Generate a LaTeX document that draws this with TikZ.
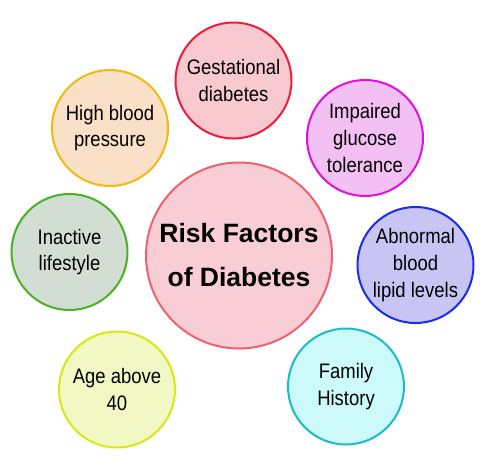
\documentclass[tikz,border=0pt]{standalone}
\usepackage{fontspec}
\setmainfont{Liberation Sans}[FakeStretch=0.88]
\newfontfamily\centerfont{Liberation Sans}
\definecolor{gestF}{HTML}{F9C9D0}\definecolor{gestD}{HTML}{EE1C3A}
\definecolor{hbpF}{HTML}{FBE0C8}\definecolor{hbpD}{HTML}{F2BA10}
\definecolor{impF}{HTML}{F2C0F2}\definecolor{impD}{HTML}{E010E0}
\definecolor{ablF}{HTML}{C8C4F4}\definecolor{ablD}{HTML}{1A2BF0}
\definecolor{famF}{HTML}{CCFAFA}\definecolor{famD}{HTML}{1ABCC8}
\definecolor{ageF}{HTML}{F2F8C4}\definecolor{ageD}{HTML}{D8E810}
\definecolor{inaF}{HTML}{D2DDD4}\definecolor{inaD}{HTML}{4AB024}
\definecolor{cenF}{HTML}{F9CDD6}\definecolor{cenD}{HTML}{F0606E}
\tikzset{
  factor/.style={circle, line width=2pt, minimum size=116pt, inner sep=0pt, align=center,
    font=\fontsize{21}{26.7}\selectfont, text=black},
  hub/.style={circle, line width=2pt, minimum size=186pt, inner sep=0pt, align=center,
    font=\centerfont\bfseries\fontsize{26.5}{44}\selectfont, text=black}
}
\begin{document}
\begin{tikzpicture}[x=1pt,y=-1pt]
\useasboundingbox (0,0) rectangle (498,475);
\node[hub, draw=cenD, fill=cenF] (hub) at (239,255.5) {Risk Factors\\of Diabetes};
\node[factor, draw=gestD, fill=gestF] (gest) at (233.5,80.5) {Gestational\\diabetes};
\node[factor, draw=impD, fill=impF] (imp) at (365,138) {Impaired\\glucose\\tolerance};
\node[factor, draw=ablD, fill=ablF] (abl) at (415.5,265) {Abnormal\\blood\\lipid levels};
\node[factor, draw=famD, fill=famF] (fam) at (346,386.5) {Family\\History};
\node[factor, draw=ageD, fill=ageF] (age) at (117,389.5) {Age above\\40};
\node[factor, draw=inaD, fill=inaF] (ina) at (69.5,252) {Inactive\\lifestyle};
\node[factor, draw=hbpD, fill=hbpF] (hbp) at (110,128) {High blood\\pressure};
\end{tikzpicture}
\end{document}
